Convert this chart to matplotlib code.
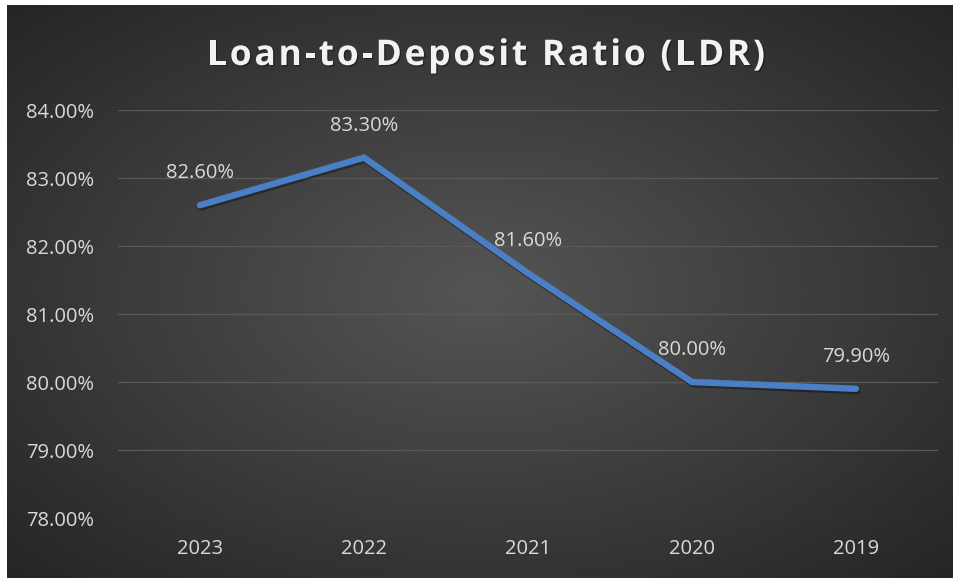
import numpy as np
import matplotlib
matplotlib.use("Agg")
import matplotlib.pyplot as plt
import matplotlib.patheffects as pe
from matplotlib.ticker import FuncFormatter
from matplotlib import font_manager
from matplotlib.ft2font import FT2Font

years = ["2023", "2022", "2021", "2020", "2019"]
ldr = [82.60, 83.30, 81.60, 80.00, 79.90]
yticks = [78, 79, 80, 81, 82, 83, 84]
title = "Loan-to-Deposit Ratio (LDR)"

W, H = 954, 578
fig = plt.figure(figsize=(W / 100, H / 100), dpi=100, facecolor="white")

# background with radial gradient
bx0, by1 = 7 / W, (H - 5) / H
bg = fig.add_axes([bx0, 0, 1 - bx0, by1])
bg.set_axis_off()
nx, ny = 400, 240
xx, yy = np.meshgrid(np.linspace(-1, 1, nx), np.linspace(-1, 1, ny))
r = np.sqrt(xx ** 2 + yy ** 2) / np.sqrt(2)
c_center, c_edge = 0x55 / 255, 0x25 / 255
val = c_center + (c_edge - c_center) * np.clip(r, 0, 1)
img = np.dstack([val, val, val])
bg.imshow(img, aspect="auto", extent=[0, 1, 0, 1], interpolation="bilinear")
bg.set_xlim(0, 1)
bg.set_ylim(0, 1)

ax = fig.add_axes([118 / W, (H - 518) / H, (938 - 118) / W, (518 - 110) / H])
ax.set_facecolor("none")
x = np.arange(len(years))
ax.plot(x, ldr, color="#4a7fc6", lw=4.6, solid_capstyle="round", solid_joinstyle="miter",
        path_effects=[pe.SimpleLineShadow(offset=(0.8, -1.6), shadow_color="black", alpha=0.35),
                      pe.Normal()], zorder=3)
ax.set_xlim(-0.5, len(years) - 0.5)
ax.set_ylim(78, 84)
ax.set_yticks(yticks)
ax.yaxis.set_major_formatter(FuncFormatter(lambda v, p: f"{v:.2f}%"))
ax.set_xticks(x)
ax.set_xticklabels(years)
ax.grid(axis="y", color="#595959", lw=0.9)
ax.set_axisbelow(True)
for s in ax.spines.values():
    s.set_visible(False)
ax.tick_params(length=0, colors="#d9d9d9", labelsize=14.5)
ax.tick_params(axis="y", pad=17)
ax.tick_params(axis="x", pad=15)
for lab in ax.get_xticklabels() + ax.get_yticklabels():
    lab.set_fontfamily("Open Sans")

for xi, v in zip(x, ldr):
    ax.annotate(f"{v:.2f}%", (xi, v), xytext=(0, 23), textcoords="offset points",
                ha="center", va="center", color="#d9d9d9", fontsize=14.5, family="Open Sans")

# title with letter spacing, laid out from font advances
tsize = 25.5
fpath = font_manager.findfont(font_manager.FontProperties(family="Open Sans", weight="bold"))
ft = FT2Font(fpath)
ft.set_size(tsize, 100)
adv = []
for ch in title:
    g = ft.load_char(ord(ch))
    adv.append(g.linearHoriAdvance / 65536.0)
target_w = 558
spacing = (target_w - sum(adv)) / (len(title) - 1)
total = sum(adv) + spacing * (len(title) - 1)
cx = 486
x0 = cx - total / 2
ybase = H - 65
shadow = [pe.withSimplePatchShadow(offset=(1.0, -1.0), shadow_rgbFace="black", alpha=0.35)]
pos = x0
for ch, a in zip(title, adv):
    if ch != " ":
        fig.text(pos / W, ybase / H, ch, ha="left", va="baseline", color="#f2f2f2",
                 fontsize=tsize, fontweight="bold", family="Open Sans", path_effects=shadow)
    pos += a + spacing

fig.savefig("out.png", dpi=100, facecolor="white")
